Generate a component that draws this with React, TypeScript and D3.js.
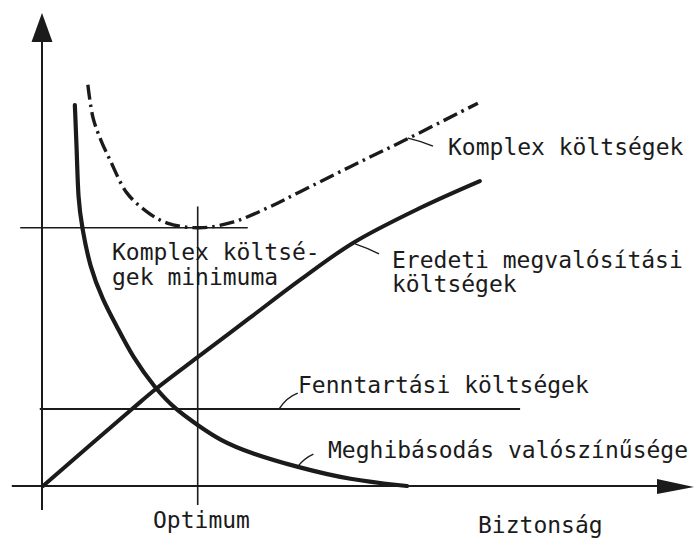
import React from "react";
import * as d3 from "d3";

// Abstract units: x = Biztonság (safety), y = cost / probability
const eredetiX = [0, 13.7, 17.4, 23.8, 31.8, 39.5, 47.7, 58, 67.2];
const eredetiY = [0, 16.3, 20.6, 27.3, 35.6, 43.6, 51.5, 58.9, 64.6];

const meghibX = [4.9, 5.2, 5.4, 6.0, 7.2, 9.2, 11.4, 13.8, 17.2, 20.3, 23.8, 27.2, 31.8, 39.1, 47.2, 56];
const meghibY = [80.7, 71.2, 60.6, 54.9, 46.4, 39.4, 33.7, 27.3, 20.8, 16.3, 12.9, 9.7, 7.0, 4.0, 1.3, 0];

const komplexX = [6.9, 7.7, 8.9, 10.3, 12.9, 16, 19.1, 24, 29.2, 34.5, 39.5, 47.2, 56, 66.9];
const komplexY = [85, 78, 73.3, 69.1, 62.1, 58.1, 55.7, 54.7, 55.9, 58.9, 62.3, 67.6, 73.5, 81.1];

const fenntartasY = 16.3;
const fenntartasRange = [-0.5, 73.4];
const optimumX = 23.8;
const minimumY = 54.7;
const minimumRange = [-3.5, 31.5];

const labels = {
  komplex: "Komplex költségek",
  eredeti: ["Eredeti megvalósítási", "költségek"],
  minimum: ["Komplex költsé-", "gek minimuma"],
  fenntartas: "Fenntartási költségek",
  meghib: "Meghibásodás valószínűsége",
  optimum: "Optimum",
  biztonsag: "Biztonság",
};

const W = 695;
const H = 539;
const INK = "#1b1b1b";
const FONT = "'DejaVu Sans Mono', monospace";

export default function App() {
  const x = d3.scaleLinear().domain([0, 100]).range([43, 693]);
  const y = d3.scaleLinear().domain([0, 100]).range([486, 14]);

  const toPts = (xs: number[], ys: number[]) => xs.map((v, i) => [v, ys[i]] as [number, number]);
  const line = d3
    .line<[number, number]>()
    .x((d) => x(d[0]))
    .y((d) => y(d[1]))
    .curve(d3.curveCatmullRom.alpha(0.5));
  const smooth = d3
    .line<[number, number]>()
    .x((d) => x(d[0]))
    .y((d) => y(d[1]))
    .curve(d3.curveBasis);

  const eredetiPath = line(toPts(eredetiX, eredetiY)) || "";
  const meghibPath = smooth(toPts(meghibX, meghibY)) || "";
  const komplexPath = line(toPts(komplexX, komplexY)) || "";

  const x0 = x(0);
  const y0 = y(0);
  const yTop = y(100);
  const xRight = x(100);

  const textStyle = { fontFamily: FONT, fontSize: 23, fill: INK } as const;

  return (
    <svg
      width={W}
      height={H}
      style={{ position: "absolute", left: 0, top: 0, background: "#fff" }}
    >
      <rect width={W} height={H} fill="#fff" />
      {/* Y axis */}
      <line x1={x0 - 1} x2={x0 - 1} y1={y(-5.1)} y2={yTop + 20} stroke={INK} strokeWidth={2} />
      <path
        d={`M${x0 - 1},${yTop - 1} L${x0 - 11.5},${yTop + 28} L${x0 + 9.5},${yTop + 28} Z`}
        fill={INK}
      />
      {/* X axis */}
      <line x1={x(-4.8)} x2={xRight - 30} y1={y0} y2={y0} stroke={INK} strokeWidth={2} />
      <path
        d={`M${xRight + 1},${y0 + 1} L${xRight - 36},${y0 - 7} L${xRight - 36},${y0 + 8} Z`}
        fill={INK}
      />
      {/* Optimum vertical */}
      <line
        x1={x(optimumX)}
        x2={x(optimumX)}
        y1={y(-4)}
        y2={y(59.2)}
        stroke={INK}
        strokeWidth={1.6}
      />
      {/* Minimum horizontal */}
      <line
        x1={x(minimumRange[0])}
        x2={x(minimumRange[1])}
        y1={y(minimumY)}
        y2={y(minimumY)}
        stroke={INK}
        strokeWidth={1.5}
      />
      {/* Fenntartási */}
      <line
        x1={x(fenntartasRange[0])}
        x2={x(fenntartasRange[1])}
        y1={y(fenntartasY)}
        y2={y(fenntartasY)}
        stroke={INK}
        strokeWidth={2}
      />
      {/* Curves */}
      <path d={eredetiPath} fill="none" stroke={INK} strokeWidth={4} strokeLinecap="round" />
      <path d={meghibPath} fill="none" stroke={INK} strokeWidth={4.2} strokeLinecap="round" />
      <path
        d={komplexPath}
        fill="none"
        stroke={INK}
        strokeWidth={3.4}
        strokeDasharray="15 5 2.5 5"
        strokeLinecap="butt"
      />

      {/* Leaders */}
      <path d={`M${x(56) + 1},${y(73.5) - 1} Q${x(56) + 14},${y(73.5) + 2} ${x(56) + 26},${y(73.5) + 7}`} fill="none" stroke={INK} strokeWidth={1.4} />
      <path d={`M${x(47.7) + 2},${y(51.5) + 1} Q${x(47.7) + 14},${y(51.5) + 5} ${x(47.7) + 26},${y(51.5) + 11}`} fill="none" stroke={INK} strokeWidth={1.4} />
      <path d={`M${x(36.3)},${y(fenntartasY)} Q${x(37.5)},${y(fenntartasY) - 12} ${x(39.2)},${y(fenntartasY) - 16}`} fill="none" stroke={INK} strokeWidth={1.4} />
      <path d={`M${x(39.1)},${y(4.0)} Q${x(40.2)},${y(4.0) - 9} ${x(41.6)},${y(4.0) - 13}`} fill="none" stroke={INK} strokeWidth={1.4} />

      {/* Labels */}
      <text x={448} y={155} style={textStyle}>{labels.komplex}</text>
      <text x={392} y={268} style={textStyle}>{labels.eredeti[0]}</text>
      <text x={392} y={292} style={textStyle}>{labels.eredeti[1]}</text>
      <text x={112} y={260} style={textStyle}>{labels.minimum[0]}</text>
      <text x={112} y={285} style={textStyle}>{labels.minimum[1]}</text>
      <text x={298} y={393} style={textStyle}>{labels.fenntartas}</text>
      <text x={328} y={458} style={textStyle}>{labels.meghib}</text>
      <text x={153} y={528} style={textStyle}>{labels.optimum}</text>
      <text x={478} y={533} style={textStyle}>{labels.biztonsag}</text>
    </svg>
  );
}
